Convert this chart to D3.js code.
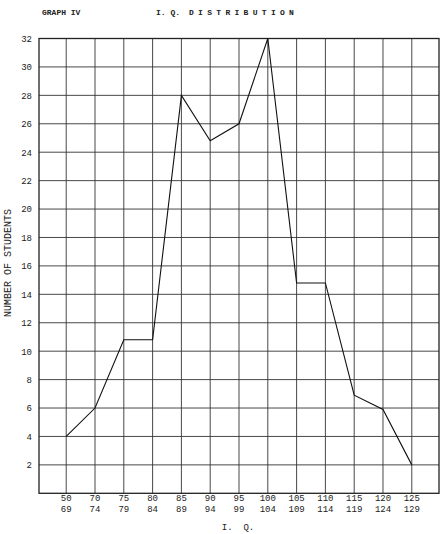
<!DOCTYPE html>
<html><head><meta charset="utf-8">
<script src="https://cdn.jsdelivr.net/npm/d3@7"></script>
<style>
html,body{margin:0;padding:0;background:#fff;}
svg{display:block;}
text{font-family:"Liberation Mono","DejaVu Sans Mono",monospace;fill:#222;}
</style></head><body>
<script>
const categoriesTop = ["50","70","75","80","85","90","95","100","105","110","115","120","125"];
const categoriesBottom = ["69","74","79","84","89","94","99","104","109","114","119","124","129"];
const students = [4, 6, 10.8, 10.8, 28, 24.8, 26, 32, 14.8, 14.8, 6.9, 5.9, 2];
const yTicks = [2,4,6,8,10,12,14,16,18,20,22,24,26,28,30,32];

const W = 443, H = 534;
const svg = d3.select("body").append("svg").attr("width", W).attr("height", H);
const pL = 39, pR = 439, pT = 38.5, pB = 493.3;

const x = d3.scalePoint().domain(categoriesTop).range([pL, pR]).padding(0.945);
const y = d3.scaleLinear().domain([0, 32]).range([pB, pT]);

// horizontal grid
svg.append("g").selectAll("line").data(yTicks).join("line")
  .attr("x1", pL).attr("x2", pR)
  .attr("y1", d => y(d)).attr("y2", d => y(d))
  .attr("stroke", "#333").attr("stroke-width", 0.9);
// vertical grid
svg.append("g").selectAll("line").data(categoriesTop).join("line")
  .attr("x1", d => x(d)).attr("x2", d => x(d))
  .attr("y1", pT).attr("y2", pB)
  .attr("stroke", "#333").attr("stroke-width", 0.9);
// frame
svg.append("rect").attr("x", pL).attr("y", pT).attr("width", pR-pL).attr("height", pB-pT)
  .attr("fill", "none").attr("stroke", "#222").attr("stroke-width", 1.3);

// y axis labels
const yAxis = d3.axisLeft(y).tickValues(yTicks).tickSize(0).tickPadding(7);
const gy = svg.append("g").attr("transform", `translate(${pL},0)`).call(yAxis);
gy.select(".domain").remove();
gy.selectAll("text").style("font-size", "9px").style("font-family", '"Liberation Mono",monospace').attr("fill", "#222");

// x axis labels (two lines)
const gx = svg.append("g");
gx.selectAll("text.t").data(categoriesTop).join("text").attr("class","t")
  .attr("x", d => x(d)).attr("y", 501).attr("text-anchor","middle").style("font-size","9px").text(d => d);
gx.selectAll("text.b").data(categoriesBottom).join("text").attr("class","b")
  .attr("x", (d,i) => x(categoriesTop[i])).attr("y", 511.5).attr("text-anchor","middle").style("font-size","9px").text(d => d);

// data line
const line = d3.line().x((d,i) => x(categoriesTop[i])).y(d => y(d));
svg.append("path").datum(students).attr("d", line)
  .attr("fill","none").attr("stroke","#111").attr("stroke-width",1.1).attr("stroke-linejoin","miter");

// titles
svg.append("text").attr("x", 42).attr("y", 15).style("font-size","8px").style("font-weight","bold").text("GRAPH IV");
svg.append("text").attr("x", 156).attr("y", 15).style("font-size","8px").style("font-weight","bold")
  .style("white-space","pre").text("I. Q.");
svg.append("text").attr("x", 189).attr("y", 15).style("font-size","8px").style("font-weight","bold")
  .style("letter-spacing","4.3px").text("DISTRIBUTION");
svg.append("text").attr("transform","translate(11,263) rotate(-90)").attr("text-anchor","middle")
  .style("font-size","10px").text("NUMBER OF STUDENTS");
svg.append("text").attr("x", 238).attr("y", 530).attr("text-anchor","middle").style("font-size","9px")
  .style("white-space","pre").text("I.  Q.");
</script>
</body></html>
